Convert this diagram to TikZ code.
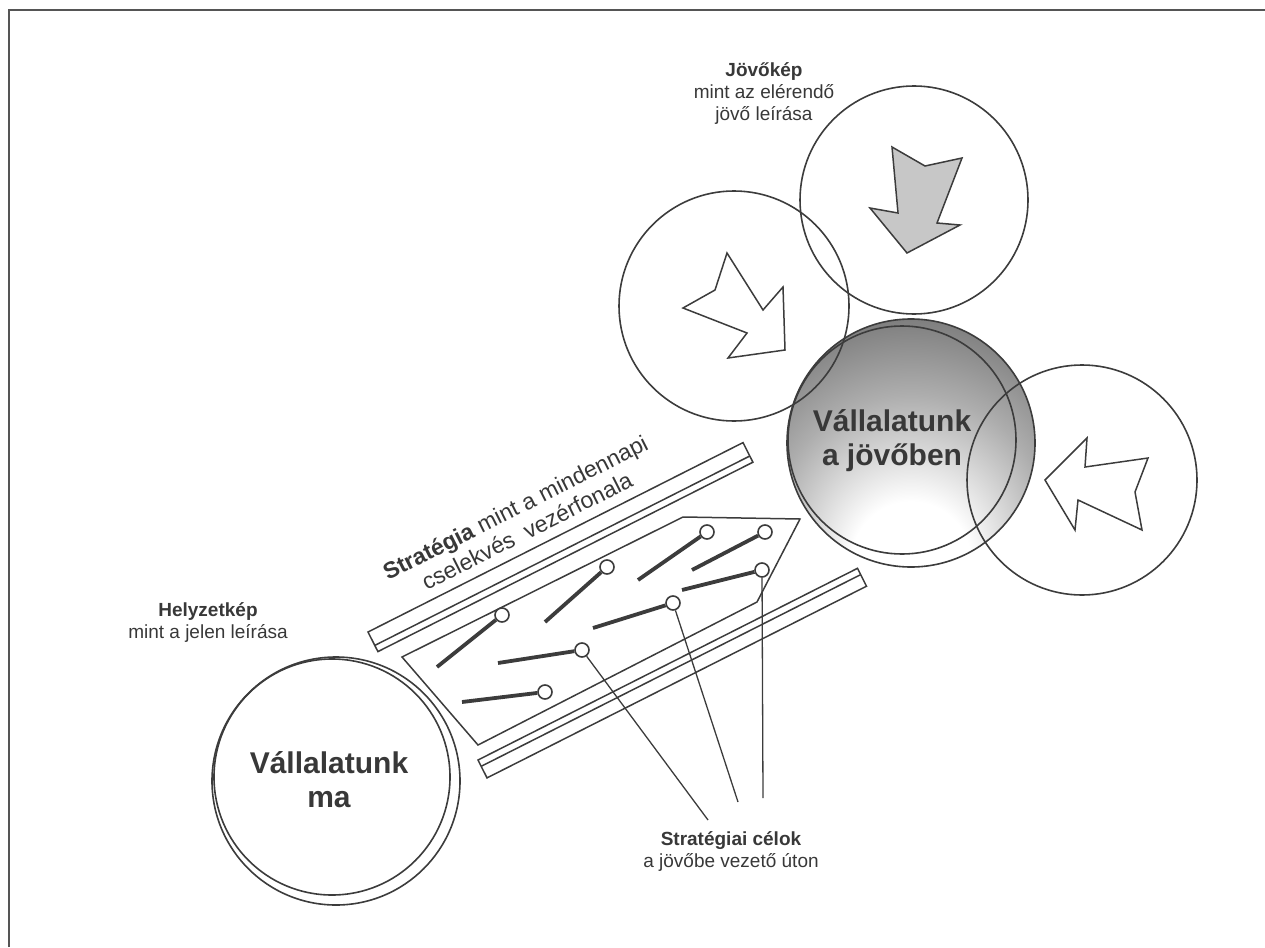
\documentclass[tikz,border=0pt]{standalone}
\usepackage{fontspec}
\setmainfont{Liberation Sans}
\definecolor{ink}{HTML}{3C3C3C}
\definecolor{label}{HTML}{383838}
\definecolor{frame}{HTML}{555555}
\pgfdeclareradialshading{futureglow}{\pgfpoint{0bp}{-28bp}}{%
  color(0bp)=(white); color(12bp)=(white); color(28bp)=(black!32);
  color(44bp)=(black!58); color(60bp)=(black!66); color(80bp)=(black!68)}
\begin{document}
\begin{tikzpicture}[x=1pt,y=-1pt,
  ring/.style={draw=ink, line width=1.6pt},
  blockarrow/.style={draw=ink, line width=1.5pt, line join=miter},
  band/.style={draw=ink, line width=1.5pt, fill=white},
  pinstem/.style={draw=ink, line width=3.8pt},
  pinhead/.style={circle, draw=ink, line width=1.6pt, fill=white,
    minimum size=14pt, inner sep=0pt},
  leader/.style={draw=ink, line width=1.3pt},
  small/.style={font=\fontsize{19}{22}\selectfont, text=label, align=center},
  slanted/.style={font=\fontsize{23}{26}\selectfont, text=label, align=center},
  big/.style={font=\fontsize{30}{34}\selectfont\bfseries, text=label, align=center},
]
\useasboundingbox (0,0) rectangle (1265,947);

% frame (left and top edges only)
\coordinate (fbl) at (9,947);
\coordinate (ftl) at (9,10);
\coordinate (ftr) at (1265,10);
\draw[draw=frame, line width=2.6pt] (fbl) -- (ftl) -- (ftr);

% the company in the future: shaded disc with a second rim
\shade[shading=futureglow] (911,443) circle[radius=124];
\draw[ring] (911,443) circle[radius=124];
\draw[ring] (902,440) circle[radius=114];

% the three vision circles
\draw[ring] (734,306) circle[radius=115];
\draw[ring] (914,200) circle[radius=114];
\draw[ring] (1082,480) circle[radius=115];

% the company today: disc with a second rim
\draw[ring] (336,781) circle[radius=124];
\draw[ring] (332,777) circle[radius=118];

% block arrows pointing at the future company
\draw[blockarrow, fill=white] (727,253) -- (715,290) -- (683,308) -- (747,333)
  -- (728,358) -- (785,350) -- (783,287) -- (763,310) -- cycle;
\draw[blockarrow, fill=black!22] (892,147) -- (925,166) -- (962,158) -- (937,223)
  -- (960,225) -- (907,253) -- (870,208) -- (898,213) -- cycle;
\draw[blockarrow, fill=white] (1045,480) -- (1087,438) -- (1085,467) -- (1148,458)
  -- (1135,492) -- (1142,530) -- (1078,500) -- (1075,530) -- cycle;

% strategy corridor: two rails and the pointed field between them
\draw[band] (368,632) -- (743,442.6) -- (752.9,462.2) -- (377.9,651.6) -- cycle;
\draw[band] (374.8,645.4) -- (749.8,456);
\draw[band] (478,760) -- (857.5,568.3) -- (866.5,586.2) -- (487,777.9) -- cycle;
\draw[band] (481.2,766.3) -- (860.7,574.6);
\draw[ink, line width=1.5pt, line join=miter]
  (402,657) -- (683,517) -- (800,519) -- (757,602) -- (478,745) -- cycle;

% strategic goals as pins
\foreach \n/\sx/\sy/\ex/\ey in {
  1/437/667/502/615, 2/545/622/607/567, 3/638/580/707/532,
  4/692/570/765/532, 5/682/590/762/570, 6/593/628/673/603,
  7/498/663/582/650, 8/462/702/545/692}{
  \coordinate (stem\n) at (\sx,\sy);
  \node[pinhead] (pin\n) at (\ex,\ey) {};
  \draw[pinstem] (stem\n) -- (pin\n);
}

% leaders to the goals label
\coordinate (lead7) at (708,820);
\coordinate (lead6) at (738,802);
\coordinate (lead5) at (763,798);
\draw[leader] (pin7) -- (lead7);
\draw[leader] (pin6) -- (lead6);
\draw[leader] (pin5) -- (lead5);

% texts
\node[big] (future) at (892,441) {Vállalatunk\\a jövőben};
\node[big] (today) at (329,780) {Vállalatunk\\ma};
\node[small] (vision) at (764,94) {\textbf{Jövőkép}\\mint az elérendő\\jövő leírása};
\node[small] (situation) at (208,622) {\textbf{Helyzetkép}\\mint a jelen leírása};
\node[small] (goals) at (731,851) {\textbf{Stratégiai célok}\\a jövőbe vezető úton};
\node[slanted, rotate=26.8] (strategy) at (521,519)
  {\textbf{Stratégia} mint a mindennapi\\cselekvés\ \ vezérfonala};
\end{tikzpicture}
\end{document}
